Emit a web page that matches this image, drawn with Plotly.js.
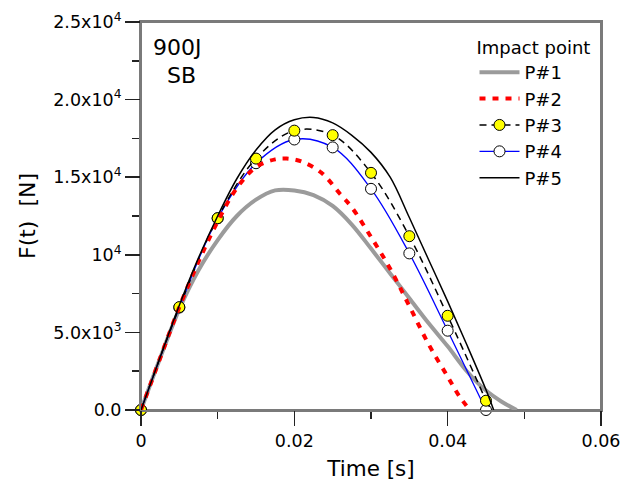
<!DOCTYPE html>
<html>
<head>
<meta charset="utf-8">
<script src="https://cdn.plot.ly/plotly-3.0.1.min.js"></script>
<style>html,body{margin:0;padding:0;background:#fff;}#chart{width:622px;height:484px;}</style>
</head>
<body>
<div id="chart"></div>
<script>
// ---- data ----
const seriesNames = ["P#1", "P#2", "P#3", "P#4", "P#5"];

const t1 = [0, 0.0025, 0.005, 0.0075, 0.01, 0.0125, 0.015, 0.0175, 0.02, 0.0225, 0.025, 0.0275, 0.03, 0.0325, 0.035, 0.0375, 0.04, 0.0425, 0.045, 0.047, 0.049];
const f1 = [0, 3350, 6500, 9000, 10950, 12500, 13550, 14150, 14150, 13850, 13150, 11950, 10400, 8800, 7200, 5600, 4100, 2500, 1250, 550, 0];

const t2 = [0, 0.0025, 0.005, 0.0075, 0.01, 0.0125, 0.015, 0.0175, 0.019, 0.021, 0.0235, 0.026, 0.0275, 0.03, 0.0325, 0.035, 0.0375, 0.04, 0.0415, 0.0429];
const f2 = [0, 3350, 6630, 9550, 12150, 14300, 15650, 16150, 16200, 16000, 15300, 13900, 13050, 11150, 9100, 6700, 4250, 2150, 900, 0];

const tMarks = [0, 0.005, 0.01, 0.015, 0.02, 0.025, 0.03, 0.035, 0.04, 0.045];
const f3 = [0, 6630, 12360, 16200, 18000, 17710, 15280, 11200, 6070, 600];
const t3End = [0.045, 0.0457];
const f3End = [600, 0];
const f4 = [0, 6600, 12350, 15900, 17430, 16920, 14250, 10090, 5110, 0];

const t5 = [0, 0.0025, 0.005, 0.0075, 0.01, 0.0125, 0.015, 0.0175, 0.02, 0.0225, 0.025, 0.0275, 0.03, 0.0325, 0.035, 0.0375, 0.04, 0.0425, 0.045, 0.046];
const f5 = [0, 3400, 6750, 9800, 12500, 14900, 16750, 18050, 18700, 18850, 18500, 17700, 16600, 15000, 12400, 9700, 7000, 4200, 1300, 0];

const xRange = [0, 0.06];
const yRange = [0, 25000];
const xTickVals = [0, 0.02, 0.04, 0.06];
const xTickText = ["0", "0.02", "0.04", "0.06"];
const yTickVals = [0, 5000, 10000, 15000, 20000, 25000];
const yTickText = ["0.0", "5.0x10<sup>3</sup>", "10<sup>4</sup>", "1.5x10<sup>4</sup>", "2.0x10<sup>4</sup>", "2.5x10<sup>4</sup>"];

// ---- traces ----
const traces = [
  {x: t1, y: f1, name: seriesNames[0], legendrank: 1, mode: 'lines', line: {color: '#9b9b9b', width: 4, shape: 'spline'}},
  {x: tMarks, y: f4, name: seriesNames[3], legendrank: 4, mode: 'lines+markers', cliponaxis: false,
   line: {color: '#0000ff', width: 1.3, shape: 'spline'},
   marker: {symbol: 'circle', size: 11, color: '#ffffff', line: {color: '#000', width: 1}}},
  {x: t3End, y: f3End, name: seriesNames[2], showlegend: false, mode: 'lines', line: {color: '#000', width: 1.5, dash: '7px,5px'}},
  {x: tMarks, y: f3, name: seriesNames[2], legendrank: 3, mode: 'lines+markers', cliponaxis: false,
   line: {color: '#000', width: 1.5, dash: '7px,5px', shape: 'spline'},
   marker: {symbol: 'circle', size: 11, color: '#ffff00', line: {color: '#000', width: 1}}},
  {x: t2, y: f2, name: seriesNames[1], legendrank: 2, mode: 'lines', line: {color: '#ff0000', width: 4, dash: '6px,7px', shape: 'spline'}},
  {x: t5, y: f5, name: seriesNames[4], legendrank: 5, mode: 'lines', xaxis: 'x2', yaxis: 'y2', line: {color: '#000', width: 1.5, shape: 'spline'}}
];

const FONT = '"DejaVu Sans", Arial, sans-serif';
const TICKC = '#222';

const layout = {
  width: 622, height: 484,
  margin: {l: 141, r: 21, t: 22, b: 74},
  paper_bgcolor: '#fff', plot_bgcolor: '#fff',
  font: {family: FONT, color: '#000'},
  xaxis: {
    showgrid: false, zeroline: false, showline: true, mirror: true,
    linecolor: '#7a7a7a', linewidth: 2,
    ticks: 'outside', ticklen: 14, tickwidth: 1.5, tickcolor: TICKC,
    tickfont: {size: 17.5, color: '#000', family: FONT},
    range: xRange, tickmode: 'array', tickvals: xTickVals, ticktext: xTickText,
    minor: {tick0: 0, dtick: 0.01, ticks: 'outside', ticklen: 7, tickwidth: 1.5, tickcolor: TICKC, showgrid: false},
    title: {text: 'Time [s]', font: {size: 21.5, family: FONT}, standoff: 11}
  },
  yaxis: {
    showgrid: false, zeroline: false, showline: true, mirror: true,
    linecolor: '#7a7a7a', linewidth: 2,
    ticks: 'outside', ticklen: 14, tickwidth: 1.5, tickcolor: TICKC,
    tickfont: {size: 17.5, color: '#000', family: FONT},
    range: yRange, tickmode: 'array', tickvals: yTickVals, ticktext: yTickText,
    minor: {tick0: 0, dtick: 2500, ticks: 'outside', ticklen: 7, tickwidth: 1.5, tickcolor: TICKC, showgrid: false},
    title: {text: 'F(t)\u00a0\u00a0[N]', font: {size: 22, family: FONT}, standoff: 12}
  },
  // overlay axes that carry the major tick marks only (same scale as the main axes)
  xaxis2: {
    overlaying: 'x', anchor: 'y', side: 'bottom', range: xRange,
    tickmode: 'array', tickvals: xTickVals, showticklabels: false,
    ticks: 'outside', ticklen: 14, tickwidth: 1.5, tickcolor: TICKC,
    showgrid: false, zeroline: false, showline: false
  },
  yaxis2: {
    overlaying: 'y', anchor: 'x', side: 'left', range: yRange,
    tickmode: 'array', tickvals: yTickVals, showticklabels: false,
    ticks: 'outside', ticklen: 14, tickwidth: 1.5, tickcolor: TICKC,
    showgrid: false, zeroline: false, showline: false
  },
  shapes: [
    {type: 'rect', xref: 'paper', yref: 'paper', x0: 0, y0: 0, x1: 1, y1: 1, layer: 'below',
     line: {color: '#7a7a7a', width: 2}, fillcolor: 'rgba(0,0,0,0)'}
  ],
  legend: {
    x: 0.725, y: 0.978, xanchor: 'left', yanchor: 'top',
    bgcolor: 'rgba(255,255,255,0)', borderwidth: 0,
    font: {size: 18, color: '#000', family: FONT},
    title: {text: 'Impact point', font: {size: 18, family: FONT}},
    itemwidth: 40, tracegroupgap: 0
  },
  annotations: [
    {xref: 'paper', yref: 'paper', x: 0.022, y: 0.933, xanchor: 'left', yanchor: 'middle', text: '900J', showarrow: false, font: {size: 22, family: FONT}},
    {xref: 'paper', yref: 'paper', x: 0.053, y: 0.863, xanchor: 'left', yanchor: 'middle', text: 'SB', showarrow: false, font: {size: 22, family: FONT}}
  ],
  showlegend: true
};

Plotly.newPlot('chart', traces, layout, {displayModeBar: false, staticPlot: true});
</script>
</body>
</html>
